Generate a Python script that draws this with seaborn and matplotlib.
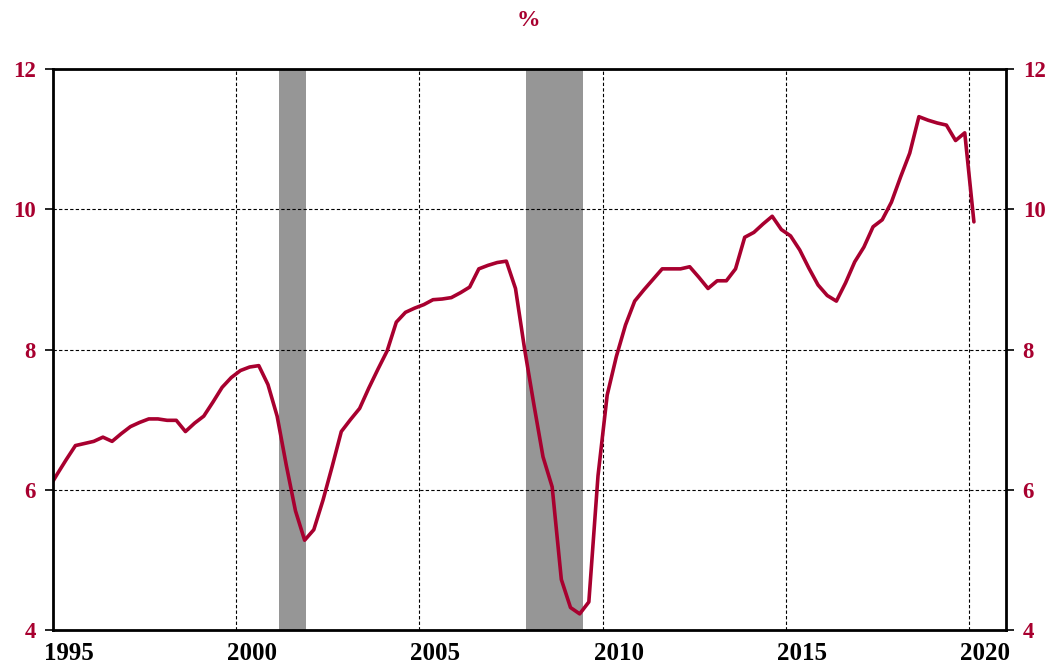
import numpy as np
import pandas as pd
import matplotlib
matplotlib.use("Agg")
import matplotlib.pyplot as plt
import matplotlib.transforms as mtransforms
import seaborn as sns

# Quarterly series, 1994Q4 .. 2020Q1 (plotted at mid-quarter)
start_quarter = "1994Q4"
values = [
    6.00,
    6.22, 6.43, 6.63, 6.66,   # 1995
    6.69, 6.75, 6.69, 6.80,   # 1996
    6.90, 6.96, 7.01, 7.01,   # 1997
    6.99, 6.99, 6.83, 6.95,   # 1998
    7.05, 7.25, 7.46, 7.60,   # 1999
    7.70, 7.75, 7.77, 7.50,   # 2000
    7.05, 6.35, 5.70, 5.28,   # 2001
    5.43, 5.85, 6.33, 6.83,   # 2002
    7.00, 7.16, 7.45, 7.72,   # 2003
    7.98, 8.39, 8.53, 8.59,   # 2004
    8.64, 8.71, 8.72, 8.74,   # 2005
    8.81, 8.89, 9.15, 9.20,   # 2006
    9.24, 9.26, 8.87, 8.00,   # 2007
    7.22, 6.47, 6.04, 4.72,   # 2008
    4.32, 4.23, 4.40, 6.20,   # 2009
    7.35, 7.90, 8.35, 8.69,   # 2010
    8.85, 9.00, 9.15, 9.15,   # 2011
    9.15, 9.18, 9.03, 8.87,   # 2012
    8.98, 8.98, 9.15, 9.60,   # 2013
    9.67, 9.79, 9.90, 9.71,   # 2014
    9.62, 9.42, 9.16, 8.92,   # 2015
    8.77, 8.69, 8.95, 9.25,   # 2016
    9.46, 9.75, 9.85, 10.10,  # 2017
    10.46, 10.80, 11.32, 11.27,  # 2018
    11.23, 11.20, 10.98, 11.09,  # 2019
    9.82,                     # 2020
]

recession_starts = [2001.17, 2007.92]
recession_ends = [2001.92, 2009.46]

x_ticks = [1995, 2000, 2005, 2010, 2015, 2020]
y_ticks = [4, 6, 8, 10, 12]

periods = pd.period_range(start_quarter, periods=len(values), freq="Q")
t = np.array([p.year + (p.quarter - 1) / 4 + 0.125 for p in periods])
df = pd.DataFrame({"t": t, "v": values})

sns.set_style("white")
plt.rcParams["font.family"] = ["Liberation Serif", "DejaVu Serif"]
plt.rcParams["font.weight"] = "bold"

RED = "#A8002F"

fig = plt.figure(figsize=(10.55, 6.72), dpi=100)
ax = fig.add_axes([52.5 / 1055, 42 / 672, (1006 - 52.5) / 1055, (630 - 69) / 672])

for s, e in zip(recession_starts, recession_ends):
    ax.axvspan(s, e, color="#969696", lw=0, zorder=1)

sns.lineplot(data=df, x="t", y="v", ax=ax, color=RED, lw=2.6, zorder=3)

ax.set_xlim(1995, 2021)
ax.set_ylim(4, 12)
ax.set_xticks(x_ticks)
ax.set_xticks(range(1995, 2022), minor=True)
ax.set_yticks(y_ticks)
ax.set_xlabel("")
ax.set_ylabel("")

ax.grid(True, which="major", axis="both", color="black", ls=(0, (3, 2)), lw=0.8, zorder=2)
ax.set_axisbelow(False)
for sp in ax.spines.values():
    sp.set_color("black")
    sp.set_linewidth(2.0)
    sp.set_zorder(5)

ax.tick_params(axis="x", which="major", direction="out", length=7, width=1.2,
               colors="black", labelsize=18, pad=2, top=False)
ax.tick_params(axis="x", which="minor", direction="out", length=3.5, width=1.0, top=False)
ax.tick_params(axis="y", which="major", direction="out", length=6, width=1.2,
               left=True, right=True, labelleft=True, labelright=True,
               labelsize=16.5, labelcolor=RED, color="black", pad=6)

shift = mtransforms.ScaledTranslation(16 / 100, 0, fig.dpi_scale_trans)
for lab in ax.get_xticklabels():
    lab.set_fontweight("bold")
    lab.set_transform(lab.get_transform() + shift)
for lab in ax.get_yticklabels():
    lab.set_fontweight("bold")

fig.text(528 / 1055, 1 - 20 / 672, "%", color=RED, fontsize=17, fontweight="bold",
         ha="center", va="center")

fig.savefig("out.png", dpi=100)
